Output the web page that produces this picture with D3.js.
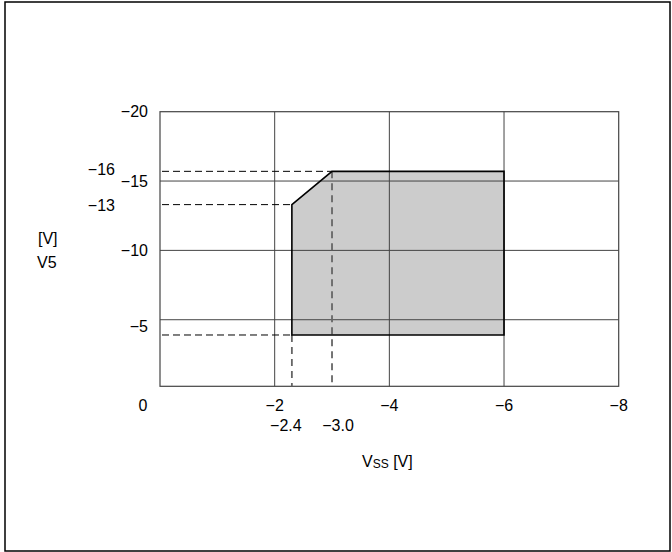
<!DOCTYPE html>
<html>
<head>
<meta charset="utf-8">
<script src="https://cdn.jsdelivr.net/npm/d3@7"></script>
<style>
  body { margin: 0; background: #fff; }
  text { font-family: "Liberation Sans", Arial, sans-serif; font-size: 16px; fill: #000; }
</style>
</head>
<body>
<svg id="chart" width="672" height="552"></svg>
<script>
// operating region V5 vs VSS (both negative volts)
let xTicks = [0, -2, -4, -6, -8]
let yTicks = [-5, -10, -15, -20]
let xGrid = [-2, -4, -6]
let yGrid = [-5, -10, -15]

// corners of the shaded region (it is not to scale)
let regionX = [-2.3, -3.0, -6.0, -6.0, -2.3]
let regionY = [-13.3, -15.7, -15.7, -3.9, -3.9]

// dashed guide lines and their labels
let guideY = [-15.7, -13.3, -3.9]
let guideYLabels = ["\u221216", "\u221213", null]
let guideX = [-2.3, -3.0]
let guideXLabels = ["\u22122.4", "\u22123.0"]

var svg = d3.select("#chart")

// outer frame
svg.append("rect")
  .attr("x", 5).attr("y", 2)
  .attr("width", 665).attr("height", 549)
  .attr("fill", "none").attr("stroke", "#000").attr("stroke-width", 1.5)

var x = d3.scaleLinear().domain([0, -8]).range([160, 618.7])
var y = d3.scaleLinear().domain([-0.2, -20]).range([386.3, 111.7])

var minus = v => v === 0 ? "0" : "\u2212" + Math.abs(v)

// region fill first so grid shows on top of it
var pts = regionX.map((d, i) => [x(d), y(regionY[i])])
svg.append("path")
  .attr("d", d3.line()(pts) + "Z")
  .attr("fill", "#cccccc")
  .attr("stroke", "none")

// grid
svg.selectAll(".vgrid")
  .data(xGrid)
  .enter()
  .append("line")
  .attr("x1", d => x(d)).attr("x2", d => x(d))
  .attr("y1", y(-20)).attr("y2", y(-0.2))
  .attr("stroke", "#444").attr("stroke-width", 1)
svg.selectAll(".hgrid")
  .data(yGrid)
  .enter()
  .append("line")
  .attr("x1", x(0)).attr("x2", x(-8))
  .attr("y1", d => y(d)).attr("y2", d => y(d))
  .attr("stroke", "#444").attr("stroke-width", 1)

// plot frame
svg.append("rect")
  .attr("x", x(0)).attr("y", y(-20))
  .attr("width", x(-8) - x(0)).attr("height", y(-0.2) - y(-20))
  .attr("fill", "none").attr("stroke", "#444").attr("stroke-width", 1.2)

// dashed guides: horizontal from y axis to region, vertical from region to x axis
svg.selectAll(".hguide")
  .data(guideY)
  .enter()
  .append("line")
  .attr("x1", x(0) + 2)
  .attr("x2", (d, i) => i == 0 ? x(-3.0) : x(-2.3))
  .attr("y1", d => y(d)).attr("y2", d => y(d))
  .attr("stroke", "#000").attr("stroke-width", 1)
  .attr("stroke-dasharray", "7,4")
svg.selectAll(".vguide")
  .data(guideX)
  .enter()
  .append("line")
  .attr("x1", d => x(d)).attr("x2", d => x(d))
  .attr("y1", (d, i) => i == 0 ? y(-3.9) : y(-15.7))
  .attr("y2", y(-0.2))
  .attr("stroke", "#666").attr("stroke-width", 1.8)
  .attr("stroke-dasharray", "7,5")

// region outline
svg.append("path")
  .attr("d", d3.line()(pts) + "Z")
  .attr("fill", "none")
  .attr("stroke", "#000")
  .attr("stroke-width", 1.6)

// x tick labels ("0" sits at the corner, left of the axis)
svg.selectAll(".xlab")
  .data(xTicks)
  .enter()
  .append("text")
  .attr("x", d => d === 0 ? x(d) - 17 : x(d))
  .attr("y", 411)
  .attr("text-anchor", "middle")
  .text(minus)

// y tick labels
svg.selectAll(".ylab")
  .data(yTicks)
  .enter()
  .append("text")
  .attr("x", 148)
  .attr("y", d => y(d) + (d === -5 ? 7 : 0))
  .attr("dy", "0.36em")
  .attr("text-anchor", "end")
  .text(minus)

// guide labels
svg.selectAll(".gylab")
  .data(guideY.filter((d, i) => guideYLabels[i]))
  .enter()
  .append("text")
  .attr("x", 115)
  .attr("y", d => y(d))
  .attr("dy", (d, i) => i == 0 ? "0.22em" : "0.4em")
  .attr("text-anchor", "end")
  .text((d, i) => guideYLabels[i])
svg.selectAll(".gxlab")
  .data(guideX)
  .enter()
  .append("text")
  .attr("x", (d, i) => x(d) + (i == 0 ? -6 : 6))
  .attr("y", 431)
  .attr("text-anchor", "middle")
  .text((d, i) => guideXLabels[i])

// axis titles
svg.append("text").attr("x", 38).attr("y", 244).text("[V]")
svg.append("text").attr("x", 37).attr("y", 268).text("V5")
var xt = svg.append("text").attr("x", 362).attr("y", 467)
xt.append("tspan").text("V")
xt.append("tspan").attr("font-size", "12px").attr("dy", 1).text("SS")
xt.append("tspan").attr("dy", -1).text(" [V]")
</script>
</body>
</html>
